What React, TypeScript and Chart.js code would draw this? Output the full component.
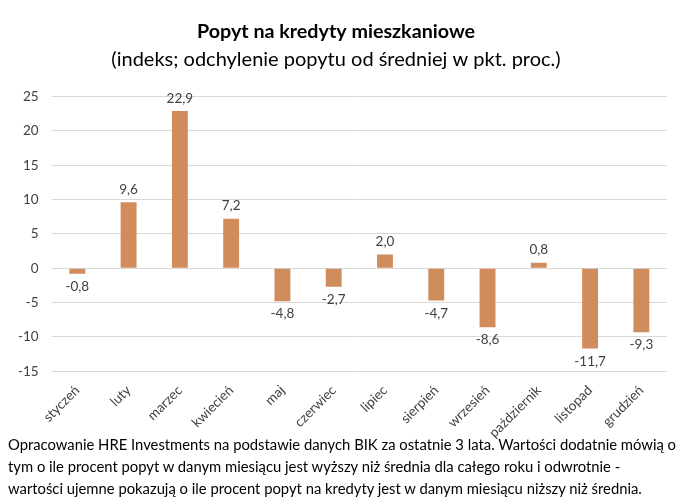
import React, { useEffect, useRef } from "react";
import { Chart, registerables } from "chart.js";

Chart.register(...registerables);

const months = ["styczeń", "luty", "marzec", "kwiecień", "maj", "czerwiec", "lipiec", "sierpień", "wrzesień", "październik", "listopad", "grudzień"];
const values = [-0.8, 9.6, 22.9, 7.2, -4.8, -2.7, 2.0, -4.7, -8.6, 0.8, -11.7, -9.3];
const titleText = "Popyt na kredyty mieszkaniowe";
const subtitleText = "(indeks; odchylenie popytu od średniej w pkt. proc.)";
const footerLines = [
  "Opracowanie HRE Investments na podstawie danych BIK za ostatnie 3 lata. Wartości dodatnie mówią o",
  "tym o ile procent popyt w danym miesiącu jest wyższy niż średnia dla całego roku i odwrotnie -",
  "wartości ujemne pokazują o ile procent popyt na kredyty jest w danym miesiącu niższy niż średnia.",
];

const FONT = "Lato, 'Open Sans', sans-serif";

const labelPlugin = {
  id: "valueLabels",
  afterDatasetsDraw(chart: any) {
    const ctx = chart.ctx;
    const meta = chart.getDatasetMeta(0);
    ctx.save();
    ctx.font = `13.5px ${FONT}`;
    ctx.fillStyle = "#404040";
    ctx.textAlign = "center";
    meta.data.forEach((bar: any, i: number) => {
      const v = values[i];
      const txt = v.toFixed(1).replace(".", ",");
      if (v >= 0) {
        ctx.textBaseline = "bottom";
        ctx.fillText(txt, bar.x, bar.y - 6);
      } else {
        ctx.textBaseline = "top";
        ctx.fillText(txt, bar.x, bar.y + 6);
      }
    });
    ctx.restore();
  },
};

export default function App() {
  const ref = useRef<HTMLCanvasElement>(null);
  useEffect(() => {
    document.body.style.margin = "0";
    const chart = new Chart(ref.current!, {
      type: "bar",
      data: {
        labels: months,
        datasets: [
          {
            data: values,
            backgroundColor: "#D18C5B",
            barPercentage: 0.62,
            categoryPercentage: 0.5,
          },
        ],
      },
      options: {
        animation: false,
        responsive: false,
        layout: { padding: { left: 5, right: 33, bottom: 7 } },
        plugins: {
          legend: { display: false },
          tooltip: { enabled: false },
          title: {
            display: true,
            text: titleText,
            font: { family: FONT, size: 19.7, weight: "bold" },
            color: "#000",
            padding: { top: 20, bottom: 4 },
          },
          subtitle: {
            display: true,
            text: subtitleText,
            font: { family: FONT, size: 20 },
            color: "#000",
            padding: { bottom: 25 },
          },
        },
        scales: {
          x: {
            grid: { display: false },
            border: { display: false },
            ticks: {
              minRotation: 45,
              maxRotation: 45,
              color: "#404040",
              font: { family: FONT, size: 13.5 },
            },
          },
          y: {
            min: -15,
            max: 25,
            ticks: {
              stepSize: 5,
              color: "#404040",
              font: { family: FONT, size: 13.5 },
              padding: 13,
            },
            grid: { color: "#d9d9d9", drawTicks: false },
            border: { display: false },
          },
        },
      },
      plugins: [labelPlugin],
    });
    return () => chart.destroy();
  }, []);
  return (
    <div style={{ position: "relative", width: 700, height: 504, background: "#fff" }}>
      <canvas ref={ref} width={700} height={451} style={{ display: "block" }} />
      <div
        style={{
          position: "absolute",
          left: 8,
          top: 433,
          fontFamily: FONT,
          fontSize: 14.8,
          lineHeight: "22px",
          color: "#000",
          whiteSpace: "nowrap",
        }}
      >
        {footerLines.map((l, i) => (
          <div key={i}>{l}</div>
        ))}
      </div>
    </div>
  );
}
